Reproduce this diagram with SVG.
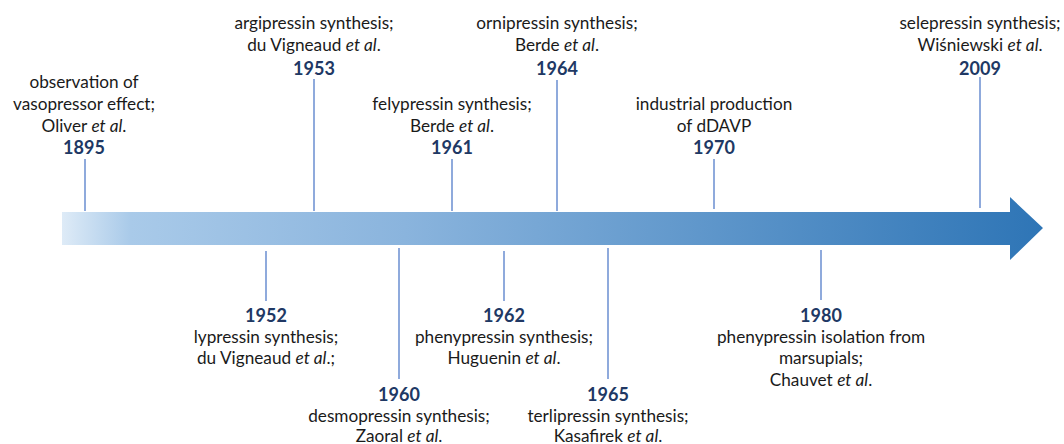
<svg xmlns="http://www.w3.org/2000/svg" width="1064" height="444" viewBox="0 0 1064 444">
<defs>
<linearGradient id="g" x1="62" y1="0" x2="1043" y2="0" gradientUnits="userSpaceOnUse">
<stop offset="0" stop-color="#deebf7"/>
<stop offset="0.07" stop-color="#a9cae9"/>
<stop offset="0.35" stop-color="#8ab4dd"/>
<stop offset="1" stop-color="#2e75b6"/>
</linearGradient>
<style>
.t{font-family:Lato,"Liberation Sans",sans-serif;font-size:17.2px;fill:#1a1a1a;text-anchor:middle}
.y{font-family:Lato,"Liberation Sans",sans-serif;font-size:18px;font-weight:bold;fill:#203864;text-anchor:middle}
.tick{stroke:#8faadc;stroke-width:2;fill:none}
.i{font-style:italic}
</style>
</defs>
<rect width="1064" height="444" fill="#fff"/>
<g id="arrow">
<path d="M62 212 H1010 V197 L1043 228 L1010 260 V245 H62 Z" fill="url(#g)"/>
</g>
<g id="connectors">
<line class="tick" x1="85" y1="159" x2="85" y2="211"/>
<line class="tick" x1="314" y1="79" x2="314" y2="211"/>
<line class="tick" x1="452" y1="159" x2="452" y2="211"/>
<line class="tick" x1="557" y1="80" x2="557" y2="211"/>
<line class="tick" x1="714" y1="159" x2="714" y2="209"/>
<line class="tick" x1="980" y1="77" x2="980" y2="208"/>
<line class="tick" x1="266" y1="251" x2="266" y2="301"/>
<line class="tick" x1="399" y1="248" x2="399" y2="379"/>
<line class="tick" x1="504" y1="251" x2="504" y2="301"/>
<line class="tick" x1="608" y1="248" x2="608" y2="379"/>
<line class="tick" x1="821" y1="250" x2="821" y2="300"/>
</g>
<g id="e1895">
<text class="t" x="84" y="88">observation of</text>
<text class="t" x="84" y="110">vasopressor effect;</text>
<text class="t" x="84" y="132">Oliver <tspan class="i">et al</tspan>.</text>
<text class="y" x="84" y="154">1895</text>
</g>
<g id="e1953">
<text class="t" x="314" y="29">argipressin synthesis;</text>
<text class="t" x="314" y="51">du Vigneaud <tspan class="i">et al</tspan>.</text>
<text class="y" x="314" y="75">1953</text>
</g>
<g id="e1961">
<text class="t" x="452" y="110">felypressin synthesis;</text>
<text class="t" x="452" y="132">Berde <tspan class="i">et al</tspan>.</text>
<text class="y" x="452" y="154">1961</text>
</g>
<g id="e1964">
<text class="t" x="557" y="29">ornipressin synthesis;</text>
<text class="t" x="557" y="51">Berde <tspan class="i">et al</tspan>.</text>
<text class="y" x="557" y="75">1964</text>
</g>
<g id="e1970">
<text class="t" x="714" y="110">industrial production</text>
<text class="t" x="714" y="132">of dDAVP</text>
<text class="y" x="714" y="154">1970</text>
</g>
<g id="e2009">
<text class="t" x="980" y="29">selepressin synthesis;</text>
<text class="t" x="980" y="51">Wiśniewski <tspan class="i">et al</tspan>.</text>
<text class="y" x="980" y="75">2009</text>
</g>
<g id="e1952">
<text class="y" x="266" y="322">1952</text>
<text class="t" x="266" y="343">lypressin synthesis;</text>
<text class="t" x="266" y="364">du Vigneaud <tspan class="i">et al</tspan>.;</text>
</g>
<g id="e1960">
<text class="y" x="399" y="401">1960</text>
<text class="t" x="399" y="422">desmopressin synthesis;</text>
<text class="t" x="399" y="442">Zaoral <tspan class="i">et al</tspan>.</text>
</g>
<g id="e1962">
<text class="y" x="504" y="322">1962</text>
<text class="t" x="504" y="343">phenypressin synthesis;</text>
<text class="t" x="504" y="364">Huguenin <tspan class="i">et al</tspan>.</text>
</g>
<g id="e1965">
<text class="y" x="608" y="401">1965</text>
<text class="t" x="608" y="422">terlipressin synthesis;</text>
<text class="t" x="608" y="442">Kasafirek <tspan class="i">et al</tspan>.</text>
</g>
<g id="e1980">
<text class="y" x="821" y="322">1980</text>
<text class="t" x="821" y="343">phenypressin isolation from</text>
<text class="t" x="821" y="364">marsupials;</text>
<text class="t" x="821" y="386">Chauvet <tspan class="i">et al</tspan>.</text>
</g>
</svg>
